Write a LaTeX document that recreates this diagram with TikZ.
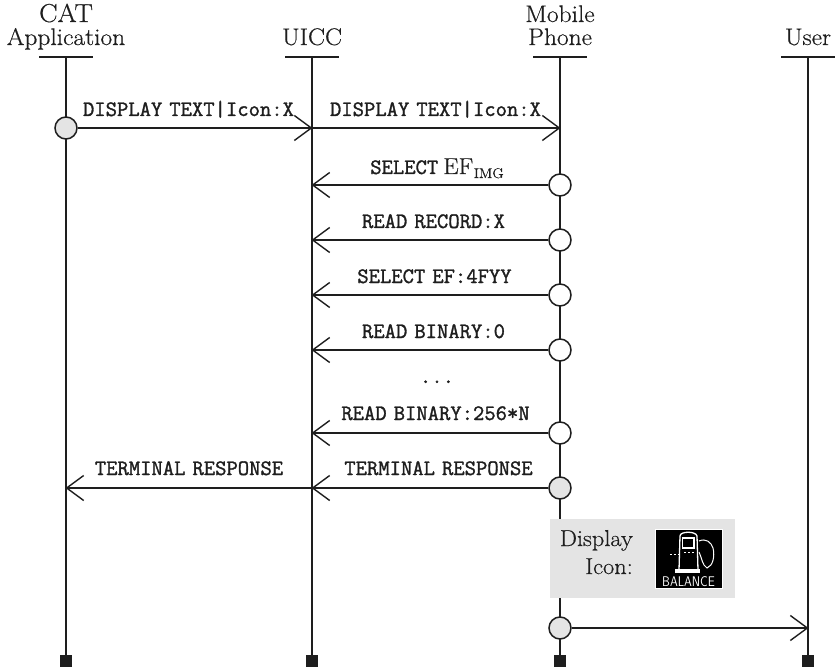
\documentclass[tikz,border=0pt]{standalone}
\usepackage{fontspec}
\setmainfont{Latin Modern Roman}[FakeBold=0.5,FakeStretch=1.06]
\newfontfamily\labfont{Latin Modern Mono}[FakeBold=1.4,WordSpace=0.62]
\newfontfamily\romfont{Latin Modern Roman}[FakeBold=0.5,FakeStretch=1.06]
\newfontfamily\balfont{Latin Modern Sans}
\usetikzlibrary{arrows.meta}
\definecolor{ink}{HTML}{1E1E1E}
\definecolor{pale}{HTML}{E4E4E4}
\tikzset{
  x=1pt,y=-1pt,
  ink/.style={draw=ink,line width=1.5pt},
  lifeline/.style={ink},
  headbar/.style={ink},
  msg/.style={ink,-{Straight Barb[length=17pt,width=25pt,line width=1.4pt]},shorten >=-0.5pt},
  state/.style={circle,draw=ink,line width=1.5pt,minimum size=22pt,inner sep=0pt},
  hollow/.style={state,fill=white},
  filled/.style={state,fill=pale},
  stopbox/.style={rectangle,fill=ink,minimum size=12pt,inner sep=0pt},
  head/.style={anchor=base,inner sep=0pt,font=\fontsize{24}{26}\selectfont,text=ink},
  lab/.style={anchor=base,inner sep=0pt,font=\fontsize{22}{24}\selectfont\labfont,text=ink},
  pump/.style={draw=white,line width=1.3pt},
}
\begin{document}
\begin{tikzpicture}
\useasboundingbox (0,0) rectangle (835,671);
% header labels
\node[head,font=\fontsize{26}{28}\selectfont] (catA) at (66,22) {CAT};
\node[head] (catB) at (66,45) {Application};
\node[head] (uiccL) at (312,45) {UICC};
\node[head] (mobA) at (560,22) {Mobile};
\node[head] (mobB) at (560,45) {Phone};
\node[head] (userL) at (808,45) {User};
% lifeline ends
\coordinate (at) at (66,57);
\coordinate (ut) at (312,57);
\coordinate (mt) at (560,57);
\coordinate (xt) at (808,57);
\node[stopbox] (ab) at (66,661) {};
\node[stopbox] (ub) at (312,661) {};
\node[stopbox] (mb) at (560,661) {};
\node[stopbox] (xb) at (808,661) {};
\draw[headbar] (39,57) -- (93,57);
\draw[headbar] (285,57) -- (339,57);
\draw[headbar] (533,57) -- (587,57);
\draw[headbar] (781,57) -- (835,57);
\draw[lifeline] (at) -- (ab);
\draw[lifeline] (ut) -- (ub);
\draw[lifeline] (mt) -- (mb);
\draw[lifeline] (xt) -- (xb);
% message anchors on lifelines
\coordinate (u0) at (312,128);
\coordinate (m0) at (560,128);
\foreach \n/\y in {1/185,2/240,3/295,4/350,5/433,6/488}{
  \coordinate (u\n) at (312,\y);
}
\coordinate (a6) at (66,488);
\coordinate (x7) at (808,628);
% state circles
\node[filled] (s0) at (66,128) {};
\node[hollow] (s1) at (560,185) {};
\node[hollow] (s2) at (560,240) {};
\node[hollow] (s3) at (560,295) {};
\node[hollow] (s4) at (560,350) {};
\node[hollow] (s5) at (560,433) {};
\node[filled] (s6) at (560,488) {};
\node[filled] (s7) at (560,628) {};
% messages
\draw[msg] (s0) -- (u0);
\draw[msg] (u0) -- (m0);
\draw[msg] (s1) -- (u1);
\draw[msg] (s2) -- (u2);
\draw[msg] (s3) -- (u3);
\draw[msg] (s4) -- (u4);
\draw[msg] (s5) -- (u5);
\draw[msg] (s6) -- (u6);
\draw[msg] (u6) -- (a6);
\draw[msg] (s7) -- (x7);
% message labels
\node[lab] (l0) at (188.5,116) {DISPLAY TEXT|Icon:X};
\node[lab] (l0b) at (435.5,116) {DISPLAY TEXT|Icon:X};
\node[lab] (l1) at (437,174) {SELECT\hspace{-2pt} {\fontsize{23}{26}\selectfont\romfont EF\kern0.5pt\raisebox{-4pt}{\fontsize{14}{16}\selectfont IMG}}};
\node[lab] (l2) at (433.5,228) {READ RECORD:X};
\node[lab] (l3) at (434.5,283) {SELECT EF:4FYY};
\node[lab] (l4) at (433.5,338) {READ BINARY:0};
\node[lab] (dots) at (437,383) {...};
\node[lab] (l5) at (435.5,420) {READ BINARY:256*N};
\node[lab] (l6) at (189,475) {TERMINAL RESPONSE};
\node[lab] (l6b) at (438.5,475) {TERMINAL RESPONSE};
% display box
\fill[pale] (550,519) rectangle (735,598);
\node[head,anchor=base east,font=\fontsize{23}{26}\selectfont] (d1) at (633,546) {Display};
\node[head,anchor=base east,font=\fontsize{23}{26}\selectfont] (d2) at (633,574) {Icon:};
% icon
\fill[black] (655,529) rectangle (722,588);
\draw[white,line width=0.8pt] (655,529) rectangle (722,588);
\draw[pump] (679,570) -- (680,536) .. controls (680,531) and (696,531) .. (697,536) -- (698,570);
\fill[white] (675,569) rectangle (700,573);
\draw[pump] (682.5,538) rectangle (694,548);
\draw[pump,line width=1pt,dash pattern=on 2pt off 2pt] (670,554) -- (680,554);
\draw[pump,line width=1pt,dash pattern=on 2pt off 2pt] (684,552) -- (694,552);
\draw[pump,line width=1pt] (699,541) .. controls (706,538) and (711,542) .. (713,548) .. controls (715,556) and (713,566) .. (707,568) .. controls (702,565) and (702,558) .. (699,552);
\node[anchor=base,inner sep=0pt,text=white,font=\fontsize{14}{15}\selectfont\balfont,xscale=0.86] (bal) at (688.5,586) {BALANCE};
\end{tikzpicture}
\end{document}
